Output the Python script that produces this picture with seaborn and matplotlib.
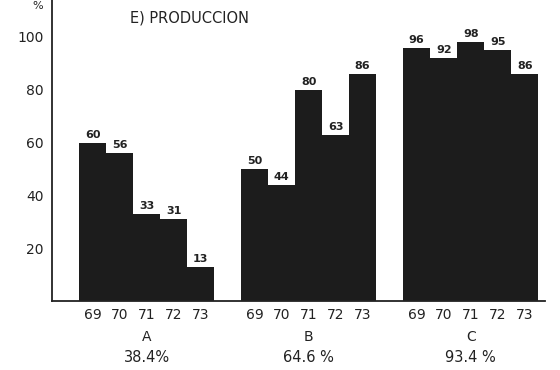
import pandas as pd
import seaborn as sns
from matplotlib import pyplot as plt
from matplotlib.transforms import blended_transform_factory

# Datos (produccion por grupo y año)
grupos = ['A', 'B', 'C']
anios = ['69', '70', '71', '72', '73']
porcentajes = ['38.4%', '64.6 %', '93.4 %']
valores_a = [60, 56, 33, 31, 13]
valores_b = [50, 44, 80, 63, 86]
valores_c = [96, 92, 98, 95, 86]
yticks = [20, 40, 60, 80, 100]

sns.set_style('white')
plt.rcParams['font.family'] = ['DejaVu Sans']
color_barra = '#1c1c1c'
color_texto = '#222222'

# tabla larga: cada grupo ocupa 5 posiciones, se deja una libre entre grupos
filas = []
for g, (grupo, vals) in enumerate(zip(grupos, [valores_a, valores_b, valores_c])):
    for k, (anio, v) in enumerate(zip(anios, vals)):
        filas.append({'grupo': grupo, 'anio': anio, 'pos': g * 6 + k, 'valor': v})
df = pd.DataFrame(filas)

fig = plt.figure(figsize=(5.6, 3.7), dpi=100)
ax = fig.add_axes([52 / 560, 1 - 301 / 370, 493 / 560, 301 / 370])

sns.barplot(data=df, x='pos', y='valor', native_scale=True, width=1.0,
            color=color_barra, saturation=1, linewidth=0, errorbar=None, ax=ax)

# etiquetas de valor encima de cada barra
ax.bar_label(ax.containers[0], labels=[str(v) for v in df['valor']],
             padding=2, fontsize=8, fontweight='bold', color=color_texto)

ax.set_xlim(-1.5, 16.75)
ax.set_ylim(0, 114)
ax.set_yticks(yticks)
ax.set_yticklabels([str(t) for t in yticks], fontsize=10, color=color_texto)
ax.set_xticks(df['pos'])
ax.set_xticklabels(df['anio'], fontsize=10, color=color_texto)
ax.tick_params(axis='x', length=0, pad=5)
ax.tick_params(axis='y', length=4, width=1.2, direction='out', pad=2, color=color_texto)
ax.set_xlabel('')
ax.set_ylabel('')

sns.despine(ax=ax)
for lado in ['left', 'bottom']:
    ax.spines[lado].set_linewidth(1.3)
    ax.spines[lado].set_color(color_texto)

# nombre del grupo y porcentaje debajo de los años
trans = blended_transform_factory(ax.transData, fig.transFigure)
for g, (grupo, pct) in enumerate(zip(grupos, porcentajes)):
    centro = g * 6 + 2
    ax.text(centro, 1 - 337 / 370, grupo, transform=trans, ha='center', va='center',
            fontsize=10, color=color_texto)
    ax.text(centro, 1 - 358 / 370, pct, transform=trans, ha='center', va='center',
            fontsize=10.5, color=color_texto)

fig.text(130 / 560, 1 - 18 / 370, 'E) PRODUCCION', ha='left', va='center',
         fontsize=10.5, color=color_texto)
# simbolo % del eje y, pegado al borde superior
fig.text(38 / 560, 1 - 1 / 370, '%', ha='center', va='top', fontsize=8, color=color_texto)

fig.savefig('out.png', dpi=100)
